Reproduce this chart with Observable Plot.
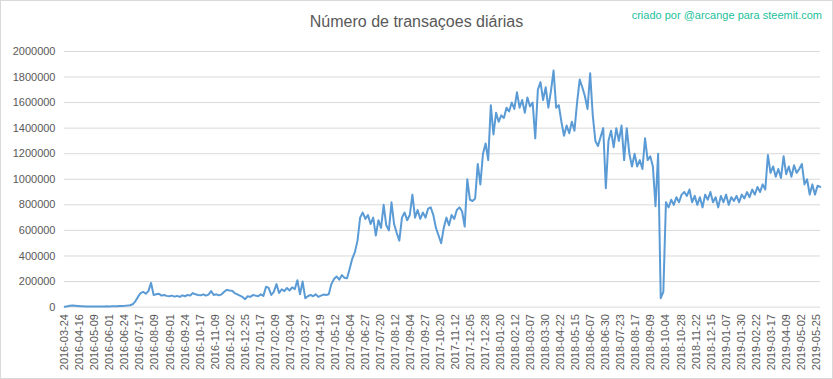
<!DOCTYPE html>
<html>
<head>
<meta charset="utf-8">
<script src="https://cdn.jsdelivr.net/npm/d3@7"></script>
<script src="https://cdn.jsdelivr.net/npm/@observablehq/plot@0.6"></script>
<style>
  html, body { margin: 0; padding: 0; background: #fff; }
  #chart { position: relative; width: 833px; height: 379px; box-sizing: border-box; border: 1px solid #d9d9d9; background: #fff; overflow: hidden; }
  #title { position: absolute; left: 0; top: 12px; width: 831px; text-align: center; font: 16px "Liberation Sans", Arial, sans-serif; color: #595959; }
  #credit { position: absolute; right: 10px; top: 8px; font: 11px "Liberation Sans", Arial, sans-serif; color: #1dbf9c; }
  #plot { position: absolute; left: -1px; top: -1px; }
</style>
</head>
<body>
<div id="chart">
  <div id="plot"></div>
  <div id="title">Número de transaçoes diárias</div>
  <div id="credit">criado por @arcange para steemit.com</div>
</div>
<script>
// Category tick labels (one every 23 daily categories)
const xLabels = [
  "2016-03-24","2016-04-16","2016-05-09","2016-06-01","2016-06-24","2016-07-17","2016-08-09","2016-09-01",
  "2016-09-24","2016-10-17","2016-11-09","2016-12-02","2016-12-25","2017-01-17","2017-02-09","2017-03-04",
  "2017-03-27","2017-04-19","2017-05-12","2017-06-04","2017-06-27","2017-07-20","2017-08-12","2017-09-04",
  "2017-09-27","2017-10-20","2017-11-12","2017-12-05","2017-12-28","2018-01-20","2018-02-12","2018-03-07",
  "2018-03-30","2018-04-22","2018-05-15","2018-06-07","2018-06-30","2018-07-23","2018-08-17","2018-09-09",
  "2018-10-04","2018-10-28","2018-11-22","2018-12-15","2019-01-07","2019-01-30","2019-02-22","2019-03-17",
  "2019-04-09","2019-05-02","2019-05-25"
];
const labelEvery = 23;     // categories between labels
const sampleStep = 4;      // categories between the sampled values below
// Daily transactions (thousands), read every 4th category
const transacoesMil = [
  3,6,10,12,11,9,7,6,5,5,
  5,4,5,5,4,5,6,5,6,7,
  6,8,9,10,12,15,22,45,80,110,
  120,105,125,190,95,100,105,90,95,88,
  85,90,82,88,80,92,85,95,90,110,
  100,95,92,100,90,98,125,95,100,92,
  100,120,135,130,128,110,100,90,80,62,
  85,80,95,90,85,100,88,160,150,95,
  120,180,110,140,125,150,130,155,140,210,
  100,200,70,85,95,85,100,80,90,98,
  95,100,180,220,240,215,250,230,225,300,
  380,430,520,700,740,690,720,650,700,560,
  680,620,800,640,600,820,650,580,520,700,
  740,680,720,880,700,760,690,740,700,770,
  780,720,620,560,500,620,700,640,720,690,
  760,780,750,630,1000,840,830,850,1120,960,
  1200,1280,1150,1580,1350,1520,1450,1500,1480,1560,
  1530,1600,1550,1680,1560,1620,1520,1640,1570,1600,
  1320,1700,1760,1620,1720,1560,1690,1850,1560,1580,
  1450,1340,1420,1360,1450,1380,1600,1780,1720,1650,
  1550,1830,1500,1300,1260,1330,1400,930,1300,1380,
  1250,1400,1300,1420,1150,1400,1200,1100,1200,1100,
  1150,1080,1320,1150,1180,1100,790,1200,70,120,
  820,780,840,800,860,820,880,900,870,920,
  820,870,800,860,780,880,840,900,820,860,
  780,870,820,880,800,860,830,870,820,880,
  850,900,860,920,880,940,900,960,920,1190,
  1050,1100,1020,1080,1010,1180,1040,1100,1020,1110,
  1050,1080,1120,960,1000,880,960,880,950,940
];
const yTicks = [0,200000,400000,600000,800000,1000000,1200000,1400000,1600000,1800000,2000000];

const data = transacoesMil.map((v, j) => ({i: j * sampleStep, v: v * 1000}));
const xTickIdx = xLabels.map((_, k) => k * labelEvery);

const chart = Plot.plot({
  width: 833,
  height: 379,
  marginLeft: 64,
  marginRight: 12,
  marginTop: 51,
  marginBottom: 72,
  style: {fontFamily: "'Liberation Sans', Arial, sans-serif", fontSize: "11px", color: "#595959", background: "transparent", overflow: "visible"},
  x: {domain: [-0.5, 1156.5], label: null},
  y: {domain: [0, 2000000], label: null},
  marks: [
    Plot.gridY(yTicks, {stroke: "#d9d9d9", strokeOpacity: 1, strokeWidth: 1}),
    Plot.axisY(yTicks, {tickSize: 0, tickPadding: 9, tickFormat: d => String(d), label: null, fill: "#595959"}),
    Plot.axisX(xTickIdx, {tickSize: 0, tickPadding: 7, tickRotate: -90, tickFormat: i => xLabels[i / labelEvery], label: null, fill: "#595959"}),
    Plot.lineY(data, {x: "i", y: "v", stroke: "#5b9bd5", strokeWidth: 2, strokeLinejoin: "round"})
  ]
});
document.getElementById("plot").appendChild(chart);
</script>
</body>
</html>
